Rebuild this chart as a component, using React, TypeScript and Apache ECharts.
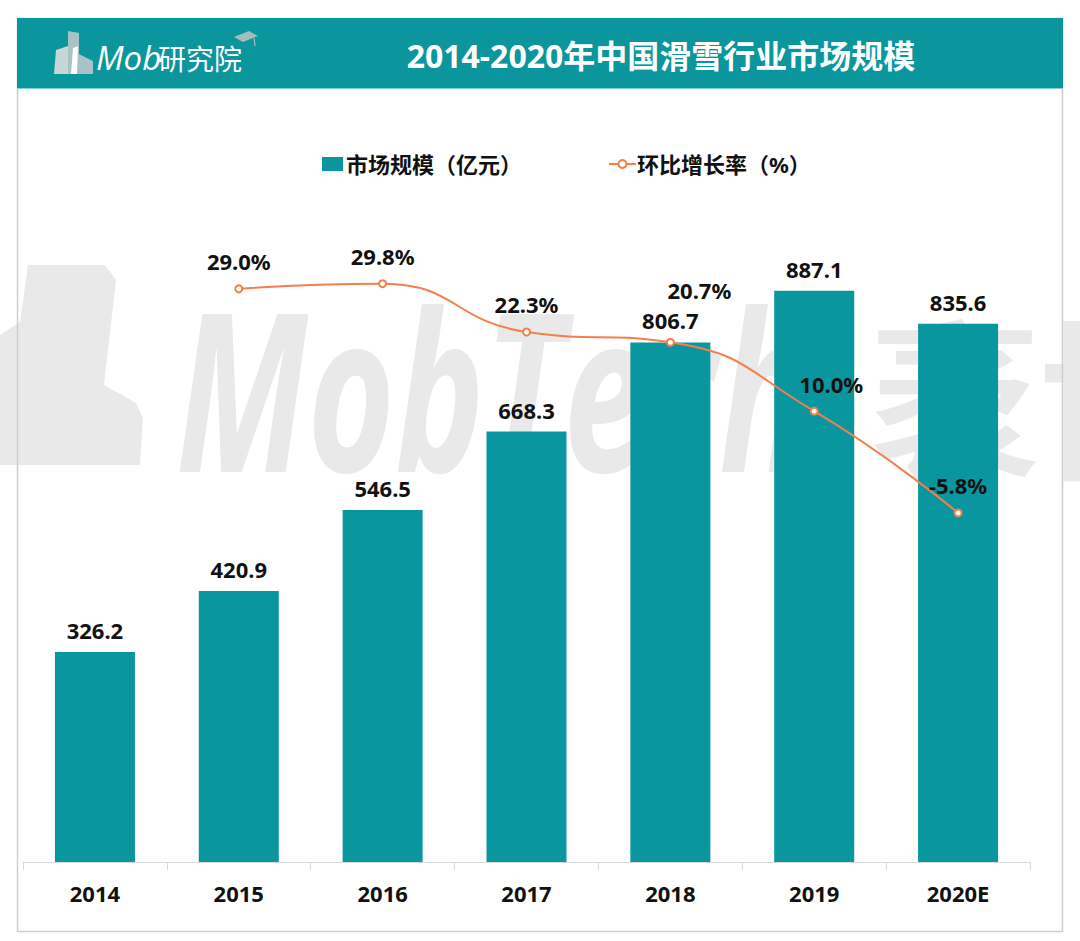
import React, { useEffect, useRef } from "react";
import * as echarts from "echarts";

const categories = ["2014", "2015", "2016", "2017", "2018", "2019", "2020E"];
const marketSize = [326.2, 420.9, 546.5, 668.3, 806.7, 887.1, 835.6];
const growthRate: (number | null)[] = [null, 29.0, 29.8, 22.3, 20.7, 10.0, -5.8];
const growthLabelOffsets: [number, number][] = [[0, 0], [0, 0], [0, 0], [0, 0], [29, -25], [17, 0], [0, 0]];
const barName = "市场规模（亿元）";
const lineName = "环比增长率（%）";
const titleText = "2014-2020年中国滑雪行业市场规模";

const FONT = '"Noto Sans", "Noto Sans CJK SC", sans-serif';
const TEAL = "#0a969e";
const ORANGE = "#f47f4c";

export default function App() {
  const ref = useRef<HTMLDivElement>(null);
  useEffect(() => {
    document.body.style.margin = "0";
    const chart = echarts.init(ref.current!, null, { renderer: "svg" });
    const labelStyle = { fontFamily: FONT, fontWeight: "bold", fontSize: 22, color: "#111" };
    chart.setOption({
      animation: false,
      backgroundColor: "#fff",
      grid: { left: 23, right: 50, top: 218, bottom: 79 },
      legend: [
        {
          left: 322, top: 153, padding: 0, itemWidth: 21, itemHeight: 14, data: [{ name: barName, icon: "rect" }],
          textStyle: { fontFamily: FONT, fontWeight: "bold", fontSize: 22, color: "#111", padding: [0, 0, 0, -2] },
        },
        {
          left: 608, top: 153, padding: 0, itemWidth: 27, itemHeight: 10, data: [{ name: lineName }],
          textStyle: { fontFamily: FONT, fontWeight: "bold", fontSize: 22, color: "#111", padding: [0, 0, 0, -4] },
        },
      ],
      xAxis: {
        type: "category", data: categories, boundaryGap: true,
        axisLine: { lineStyle: { color: "#d9d9d9", width: 1 } },
        axisTick: { show: true, length: 8, lineStyle: { color: "#d9d9d9" } },
        axisLabel: { ...labelStyle, margin: 20 },
      },
      yAxis: [
        { type: "value", min: 0, max: 1000, show: false },
        { type: "value", min: -60, max: 40, show: false },
      ],
      series: [
        {
          name: barName, type: "bar", data: marketSize, barWidth: 80, z: 2,
          itemStyle: { color: TEAL },
          label: { show: true, position: "top", distance: 11, ...labelStyle, formatter: (p: any) => p.value.toFixed(1) },
        },
        {
          name: lineName, type: "line", yAxisIndex: 1, smooth: 0.5, z: 3,
          data: growthRate.map((v, i) => ({
            value: v,
            label: { offset: growthLabelOffsets[i] },
          })),
          symbol: "emptyCircle", symbolSize: 7,
          lineStyle: { color: ORANGE, width: 2 },
          itemStyle: { color: ORANGE, borderWidth: 1.5 },
          label: { show: true, position: "top", distance: 12, ...labelStyle, formatter: (p: any) => p.value.toFixed(1) + "%" },
        },
      ],
      graphic: [
        // watermark
        {
          type: "polygon", z: 0, silent: true,
          shape: { points: [[0, 335], [20, 322], [28, 265], [105, 265], [116, 280], [104, 385], [136, 403], [143, 418], [140, 465], [0, 465]] },
          style: { fill: "#e9e9e9" },
        },
        {
          type: "text", z: 0, silent: true, x: 176, y: 387, scaleX: 0.68,
          style: { text: "MobTech", fontFamily: '"Open Sans", sans-serif', fontStyle: "italic", fontWeight: "bold", fontSize: 220, fill: "#e9e9e9", verticalAlign: "middle" },
        },
        {
          type: "text", z: 0, silent: true, x: 870, y: 392,
          style: { text: "袤博", fontFamily: '"Noto Sans CJK SC", sans-serif', fontWeight: "bold", fontSize: 170, fill: "#e9e9e9", verticalAlign: "middle" },
        },
        // frame
        {
          type: "rect", z: 20, silent: true,
          shape: { x: 17.5, y: 18.5, width: 1045, height: 913 },
          style: { fill: "none", stroke: "#cfcfcf", lineWidth: 1.5 },
        },
        {
          type: "rect", z: 21, silent: true,
          shape: { x: 17, y: 18, width: 1046, height: 71 },
          style: { fill: "#0a969c" },
        },
        {
          type: "line", z: 22, silent: true,
          shape: { x1: 17, y1: 88.5, x2: 1063, y2: 88.5 },
          style: { stroke: "#7fd0d2", lineWidth: 1 },
        },
        {
          type: "text", z: 22, x: 661, y: 55,
          style: { text: titleText, fontFamily: FONT, fontWeight: "bold", fontSize: 32, fill: "#fff", align: "center", verticalAlign: "middle" },
        },
        // logo
        {
          type: "polygon", z: 22,
          shape: { points: [[56, 50], [68, 46], [68, 74], [54, 74]] },
          style: { fill: "#c5d6d7" },
        },
        {
          type: "polygon", z: 22,
          shape: { points: [[68, 31], [79, 33], [79, 54], [93, 61], [93, 74], [68, 74]] },
          style: { fill: "#a7c3c5" },
        },
        {
          type: "polygon", z: 23,
          shape: { points: [[73, 48], [78, 46], [77, 74], [71, 74]] },
          style: { fill: "#ffffff" },
        },
        {
          type: "text", z: 23, x: 96, y: 57,
          style: { text: "Mob", fontFamily: '"Open Sans", sans-serif', fontStyle: "italic", fontSize: 33, fill: "#fff", verticalAlign: "middle" },
        },
        {
          type: "text", z: 23, x: 158, y: 58,
          style: { text: "研究院", fontFamily: '"Noto Sans CJK SC", sans-serif', fontSize: 28, fill: "#fff", verticalAlign: "middle" },
        },
        {
          type: "polygon", z: 23,
          shape: { points: [[234, 37], [249, 31], [258, 36], [243, 42]] },
          style: { fill: "#a3bcbd" },
        },
        {
          type: "line", z: 23,
          shape: { x1: 254, y1: 38, x2: 255, y2: 46 },
          style: { stroke: "#a3bcbd", lineWidth: 1.2 },
        },
      ],
    });
    return () => chart.dispose();
  }, []);
  return <div ref={ref} style={{ width: 1080, height: 941 }} />;
}
